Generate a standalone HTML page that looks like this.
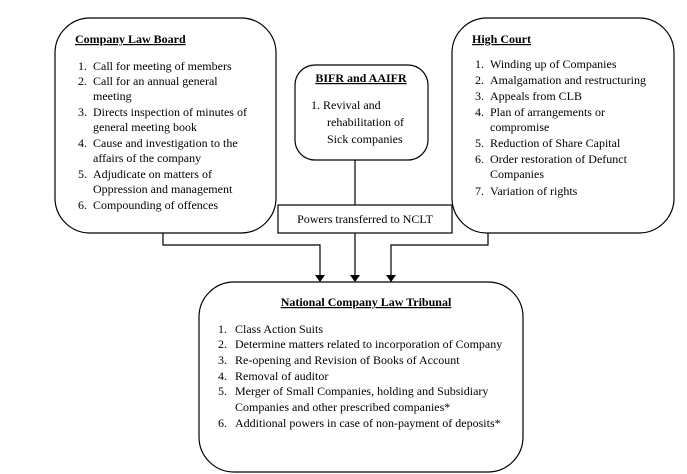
<!DOCTYPE html>
<html><head><style>
html,body{margin:0;padding:0;background:#fff;}
svg{display:block;}
text{font-family:"Liberation Serif",serif;font-size:12px;fill:#000;}
.b{font-weight:bold;text-decoration:underline;}
</style></head><body>
<svg width="687" height="474" viewBox="0 0 687 474">
<g fill="none" stroke="#000" stroke-width="1.2">
<rect x="55" y="18" width="221" height="215" rx="35"/>
<rect x="452" y="18" width="222" height="215" rx="35"/>
<rect x="295" y="65" width="133" height="95" rx="20"/>
<rect x="278" y="205" width="174" height="28" fill="#fff"/>
<rect x="199" y="282" width="324" height="190" rx="35"/>
<polyline points="163,233 163,245 320,245 320,276"/>
<line x1="355" y1="160" x2="355" y2="205"/>
<line x1="355" y1="233" x2="355" y2="276"/>
<polyline points="488,233 488,245 391,245 391,276"/>
</g>
<g fill="#000">
<polygon points="315,275 325,275 320,282"/>
<polygon points="350,275 360,275 355,282"/>
<polygon points="386,275 396,275 391,282"/>
</g>
<text x="75" y="43" class="b">Company Law Board</text>
<g>
<text x="78" y="70">1.</text><text x="93" y="70">Call for meeting of members</text>
<text x="78" y="85">2.</text><text x="93" y="85">Call for an annual general</text>
<text x="93" y="100">meeting</text>
<text x="78" y="116">3.</text><text x="93" y="116">Directs inspection of minutes of</text>
<text x="93" y="131">general meeting book</text>
<text x="78" y="147">4.</text><text x="93" y="147">Cause and investigation to the</text>
<text x="93" y="162">affairs of the company</text>
<text x="78" y="178">5.</text><text x="93" y="178">Adjudicate on matters of</text>
<text x="93" y="193">Oppression and management</text>
<text x="78" y="209">6.</text><text x="93" y="209">Compounding of offences</text>
</g>
<text x="472" y="43" class="b">High Court</text>
<g>
<text x="475" y="68">1.</text><text x="490" y="68">Winding up of Companies</text>
<text x="475" y="84">2.</text><text x="490" y="84">Amalgamation and restructuring</text>
<text x="475" y="100">3.</text><text x="490" y="100">Appeals from CLB</text>
<text x="475" y="116">4.</text><text x="490" y="116">Plan of arrangements  or</text>
<text x="490" y="131">compromise</text>
<text x="475" y="147">5.</text><text x="490" y="147">Reduction of Share Capital</text>
<text x="475" y="163">6.</text><text x="490" y="163">Order restoration of Defunct</text>
<text x="490" y="178">Companies</text>
<text x="475" y="195">7.</text><text x="490" y="195">Variation of rights</text>
</g>
<text x="361" y="82" class="b" text-anchor="middle">BIFR and AAIFR</text>
<text x="311" y="109">1.  Revival and</text>
<text x="327" y="126">rehabilitation  of</text>
<text x="327" y="143">Sick companies</text>
<text x="365" y="223" text-anchor="middle">Powers transferred to NCLT</text>
<text x="366" y="306" class="b" text-anchor="middle">National Company Law Tribunal</text>
<g>
<text x="218" y="333">1.</text><text x="235" y="333">Class Action Suits</text>
<text x="218" y="348">2.</text><text x="235" y="348">Determine matters related to incorporation of Company</text>
<text x="218" y="364">3.</text><text x="235" y="364">Re-opening and Revision of Books of Account</text>
<text x="218" y="380">4.</text><text x="235" y="380">Removal of auditor</text>
<text x="218" y="395">5.</text><text x="235" y="395">Merger of Small Companies, holding and Subsidiary</text>
<text x="235" y="411">Companies and other prescribed companies*</text>
<text x="218" y="427">6.</text><text x="235" y="427">Additional powers in case of non-payment of deposits*</text>
</g>
</svg>
</body></html>
